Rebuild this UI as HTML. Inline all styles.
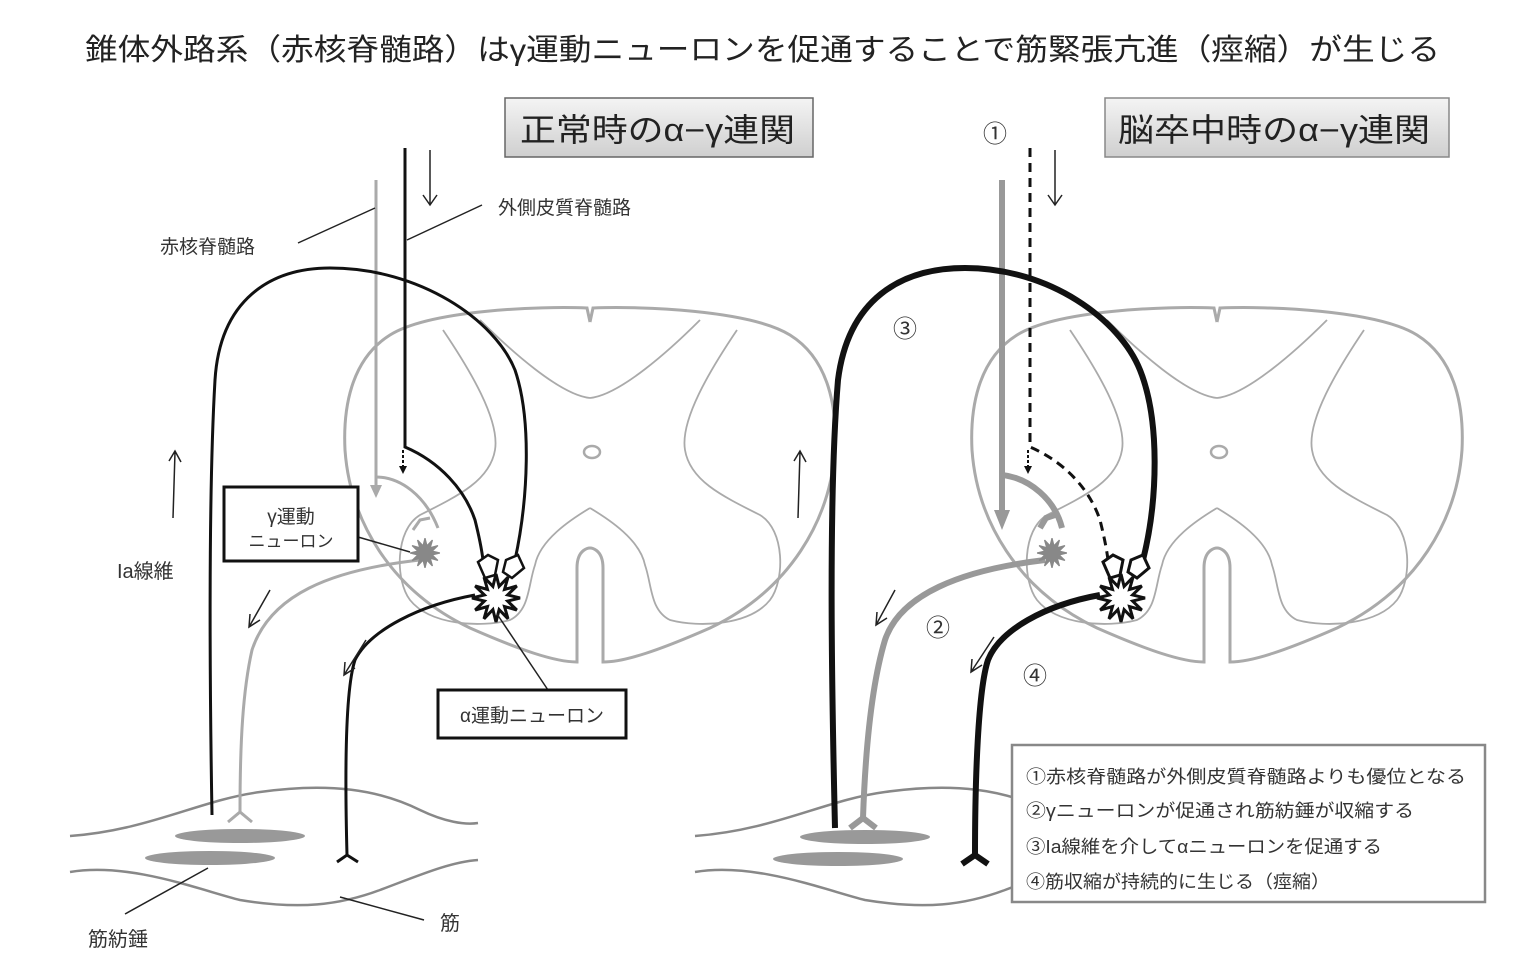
<!DOCTYPE html>
<html><head><meta charset="utf-8"><style>
html,body{margin:0;padding:0;background:#fff;}
svg{display:block;font-family:"Liberation Sans","Noto Sans CJK JP",sans-serif;}
</style></head><body>
<svg width="1526" height="972" viewBox="0 0 1526 972" xmlns="http://www.w3.org/2000/svg">
<defs>
<linearGradient id="tg" x1="0" y1="0" x2="0" y2="1"><stop offset="0" stop-color="#f4f4f4"/><stop offset="1" stop-color="#cfcfcf"/></linearGradient>
<g id="cordhalf" fill="none" stroke="#aaa">
  <path stroke-width="3" d="M590 322 L587 308 C540 306 430 310 390 335 C350 360 343 410 345 450 C350 520 390 590 470 628 C520 650 555 662 577 662 L577 568 C577 548 590 548 590 548"/>
  <path stroke-width="1.8" d="M443 330 C470 370 500 420 495 450 C490 480 460 495 420 515 C395 530 395 580 410 600 C430 625 480 628 510 620 C530 610 528 585 535 565 C540 540 570 520 590 508"/>
  <path stroke-width="1.8" d="M480 320 C510 350 560 395 590 398"/>
</g>
<g id="cord">
  <use href="#cordhalf"/>
  <use href="#cordhalf" transform="translate(1180,0) scale(-1,1)"/>
  <ellipse cx="592" cy="452" rx="8" ry="6" fill="none" stroke="#aaa" stroke-width="2.5"/>
</g>
<polygon id="star" points="24,0 11.6,3.1 20.8,12 8.5,8.5 12,20.8 3.1,11.6 0,24 -3.1,11.6 -12,20.8 -8.5,8.5 -20.8,12 -11.6,3.1 -24,0 -11.6,-3.1 -20.8,-12 -8.5,-8.5 -12,-20.8 -3.1,-11.6 0,-24 3.1,-11.6 12,-20.8 8.5,-8.5 20.8,-12 11.6,-3.1"/>
<g id="muscle" fill="none" stroke="#888" stroke-width="2.5">
  <path d="M70 836 C150 830 200 800 260 792 C330 782 380 790 420 810 C445 822 465 825 478 823"/>
  <path d="M70 872 C130 862 200 890 240 900 C300 910 340 905 380 890 C420 875 450 862 478 860"/>
</g>
</defs>

<text x="85" y="60" font-size="30" textLength="1355" lengthAdjust="spacingAndGlyphs" fill="#222">錐体外路系（赤核脊髄路）はγ運動ニューロンを促通することで筋緊張亢進（痙縮）が生じる</text>

<rect x="505" y="98" width="308" height="59" fill="url(#tg)" stroke="#666" stroke-width="1.5"/>
<text x="520" y="141" font-size="32" textLength="275" lengthAdjust="spacingAndGlyphs" fill="#222">正常時のα−γ連関</text>
<rect x="1105" y="98" width="344" height="59" fill="url(#tg)" stroke="#888" stroke-width="1.5"/>
<text x="1118" y="141" font-size="32" textLength="312" lengthAdjust="spacingAndGlyphs" fill="#222">脳卒中時のα−γ連関</text>

<!-- LEFT PANEL -->
<use href="#cord"/>
<use href="#muscle"/>
<ellipse cx="240" cy="836" rx="65" ry="7" fill="#999"/>
<ellipse cx="210" cy="858" rx="65" ry="7" fill="#999"/>

<g fill="none" stroke="#aaa" stroke-width="3">
  <path d="M376 180 L376 490"/>
  <path d="M376 477 C400 477 425 495 438 528"/>
  <path d="M413 530 L420 520 L430 518"/>
  <path d="M420 560 C330 570 270 595 252 650 C243 690 240 740 240 812"/>
  <path d="M228 822 L240 812 L252 822"/>
</g>
<path d="M370 485 L376 498 L382 485 Z" fill="#aaa"/>
<use href="#star" transform="translate(425,553) scale(0.62)" fill="#888" stroke="#888" stroke-width="2"/>

<g fill="none" stroke="#111" stroke-width="3">
  <path d="M405 148 L405 447 C440 462 465 490 475 520 C480 540 482 552 483 560"/>
  <path d="M212 815 C210 700 208 500 215 380 C220 300 270 268 330 268 C420 268 495 320 515 370 C532 420 528 500 515 560"/>
  <path d="M475 595 C420 605 370 630 355 660 C345 690 345 780 347 855"/>
  <path d="M337 862 L347 855 L358 862"/>
</g>
<path d="M403 450 L403 468" stroke="#111" stroke-width="2" stroke-dasharray="3 2"/>
<path d="M399 466 L403 474 L407 466 Z" fill="#111"/>
<path d="M478 562 L488 555 L498 560 L495 575 L485 578 Z" fill="#fff" stroke="#111" stroke-width="2.5"/>
<path d="M506 560 L518 555 L524 568 L512 578 L503 572 Z" fill="#fff" stroke="#111" stroke-width="2.5"/>
<use href="#star" transform="translate(496,598)" fill="#fff" stroke="#111" stroke-width="3"/>

<g stroke="#222" stroke-width="1.5" fill="none">
  <path d="M298 243 L375 208"/>
  <path d="M482 205 L407 240"/>
  <path d="M430 150 L430 205 M423 195 L430 205 L437 195"/>
  <path d="M173 518 L175 452 M169 461 L175 451 L181 462"/>
  <path d="M270 590 L249 627 M250 614 L249 627 L260 620"/>
  <path d="M366 640 L344 675 M345 662 L344 675 L355 668"/>
  <path d="M358 537 L410 552"/>
  <path d="M497 614 L548 690"/>
  <path d="M208 868 L125 914"/>
  <path d="M340 897 L424 920"/>
</g>
<text x="160" y="253" font-size="19" fill="#333">赤核脊髄路</text>
<text x="498" y="214" font-size="19" fill="#333">外側皮質脊髄路</text>
<text x="117" y="578" font-size="20" fill="#333">Ia線維</text>
<rect x="224" y="487" width="134" height="74" fill="#fff" stroke="#111" stroke-width="3"/>
<text x="291" y="523" font-size="19" text-anchor="middle" fill="#333">γ運動</text>
<text x="291" y="547" font-size="17" text-anchor="middle" fill="#333">ニューロン</text>
<rect x="438" y="690" width="188" height="48" fill="#fff" stroke="#111" stroke-width="3"/>
<text x="532" y="722" font-size="19" text-anchor="middle" fill="#333">α運動ニューロン</text>
<text x="88" y="946" font-size="20" fill="#333">筋紡錘</text>
<text x="440" y="930" font-size="20" fill="#333">筋</text>

<!-- RIGHT PANEL -->
<use href="#cord" transform="translate(627,0)"/>
<use href="#muscle" transform="translate(625,0)"/>
<ellipse cx="865" cy="837" rx="65" ry="7" fill="#999"/>
<ellipse cx="838" cy="859" rx="65" ry="7" fill="#999"/>

<g fill="none" stroke="#999" stroke-width="6">
  <path d="M1002 180 L1002 515"/>
  <path d="M1002 475 C1030 478 1055 500 1062 528"/>
  <path d="M1040 528 L1046 518 L1055 515"/>
  <path d="M1045 560 C960 570 900 595 885 640 C870 690 865 760 863 818"/>
  <path d="M850 828 L863 818 L876 828"/>
</g>
<path d="M994 510 L1002 530 L1010 510 Z" fill="#999"/>
<use href="#star" transform="translate(1052,553) scale(0.62)" fill="#888" stroke="#888" stroke-width="2"/>

<g fill="none" stroke="#111">
  <path d="M1030 148 L1030 447 C1065 462 1090 490 1100 520 C1105 540 1107 552 1108 560" stroke-width="3" stroke-dasharray="9 6"/>
  <path d="M835 828 C832 700 828 500 838 380 C848 300 900 268 965 268 C1050 268 1120 320 1140 370 C1160 420 1158 500 1143 560" stroke-width="6"/>
  <path d="M1100 595 C1045 605 1000 630 988 660 C978 690 975 780 975 855" stroke-width="6"/>
  <path d="M962 864 L975 855 L988 864" stroke-width="6"/>
</g>
<path d="M1028 450 L1028 468" stroke="#111" stroke-width="2" stroke-dasharray="3 2"/>
<path d="M1024 466 L1028 474 L1032 466 Z" fill="#111"/>
<path d="M1103 562 L1113 555 L1123 560 L1120 575 L1110 578 Z" fill="#fff" stroke="#111" stroke-width="3"/>
<path d="M1131 560 L1143 555 L1149 568 L1137 578 L1128 572 Z" fill="#fff" stroke="#111" stroke-width="3"/>
<use href="#star" transform="translate(1121,598)" fill="#fff" stroke="#111" stroke-width="3"/>

<g stroke="#222" stroke-width="1.5" fill="none">
  <path d="M1055 150 L1055 205 M1048 195 L1055 205 L1062 195"/>
  <path d="M798 518 L800 452 M794 461 L800 451 L806 462"/>
  <path d="M895 590 L876 625 M877 612 L876 625 L887 618"/>
  <path d="M994 637 L971 672 M972 659 L971 672 L982 665"/>
</g>
<g font-size="24" fill="#333" text-anchor="middle">
  <text x="995" y="142">①</text>
  <text x="905" y="337">③</text>
  <text x="938" y="636">②</text>
  <text x="1035" y="684">④</text>
</g>

<rect x="1012" y="745" width="473" height="157" fill="#fff" stroke="#888" stroke-width="2.5"/>
<g font-size="18" fill="#333">
  <text x="1026" y="783" textLength="440" lengthAdjust="spacingAndGlyphs">①赤核脊髄路が外側皮質脊髄路よりも優位となる</text>
  <text x="1026" y="817" textLength="388" lengthAdjust="spacingAndGlyphs">②γニューロンが促通され筋紡錘が収縮する</text>
  <text x="1026" y="853" textLength="356" lengthAdjust="spacingAndGlyphs">③Ia線維を介してαニューロンを促通する</text>
  <text x="1026" y="888" textLength="304" lengthAdjust="spacingAndGlyphs">④筋収縮が持続的に生じる（痙縮）</text>
</g>
</svg>
</body></html>
